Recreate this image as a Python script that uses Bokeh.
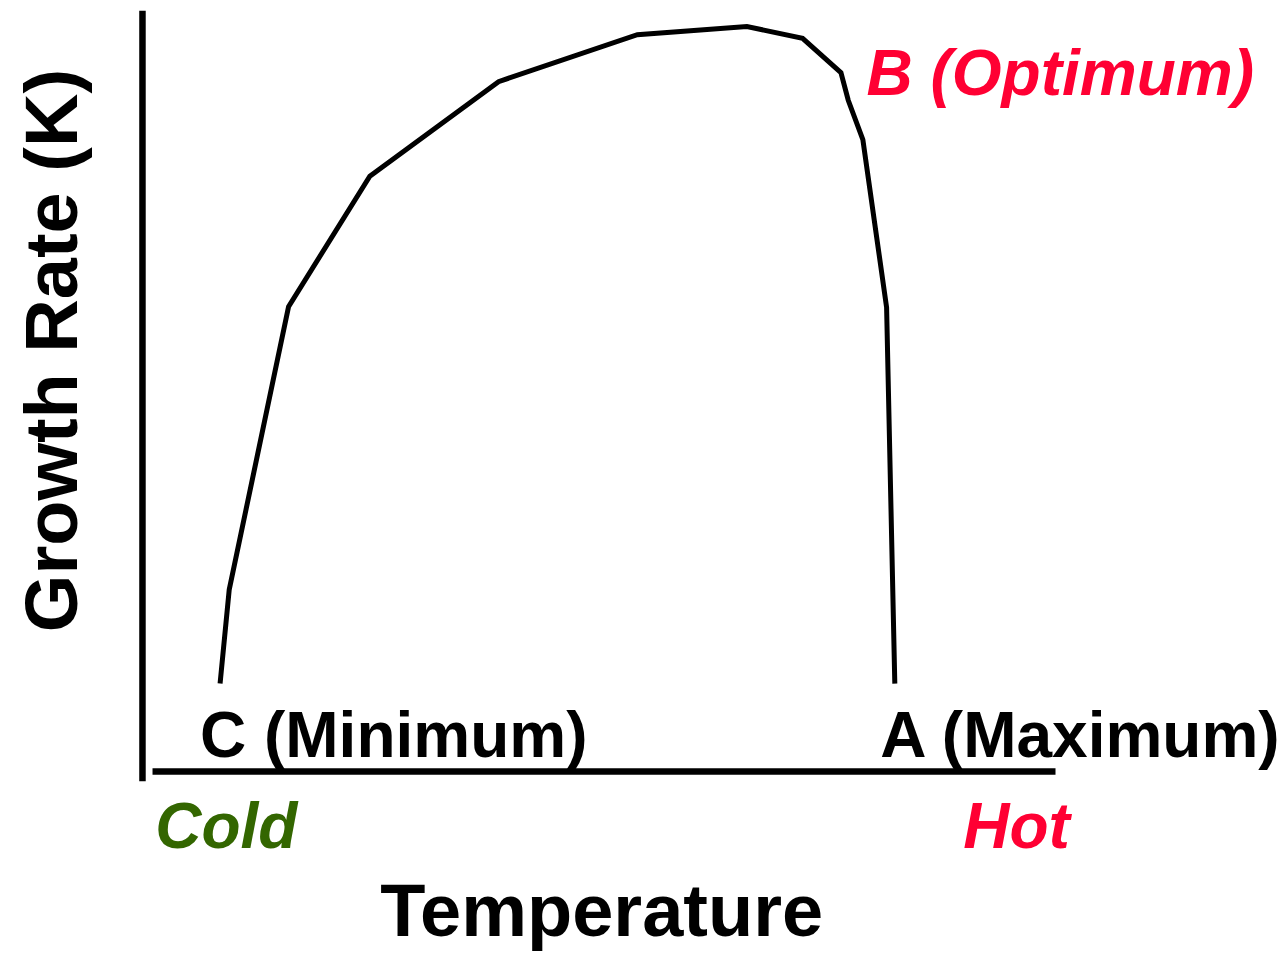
from bokeh.plotting import figure
from bokeh.models import Range1d, Label
from bokeh.embed import file_html
from bokeh.resources import INLINE
import math

# Data (temperature in arbitrary units 0-100, growth rate 0-100)
temperature = [8.5, 9.5, 16.0, 24.9, 39.0, 54.2, 66.2, 72.3, 76.5, 77.3, 78.9, 81.5, 82.4]
growth_rate = [11.8, 24.4, 62.4, 79.9, 92.6, 98.9, 100.0, 98.4, 93.8, 90.1, 84.8, 62.3, 11.8]

point_labels = ["C (Minimum)", "A (Maximum)", "B (Optimum)"]
end_labels = ["Cold", "Hot"]
x_title = "Temperature"
y_title = "Growth Rate (K)"

W, H = 1285, 953
p = figure(width=W, height=H, output_backend="svg", toolbar_location=None,
           x_range=Range1d(-15.55, 125.19), y_range=Range1d(-24.43, 103.49),
           min_border=0, outline_line_color=None)
p.axis.visible = False
p.grid.visible = False

# axes lines
p.segment(x0=[0], y0=[-1.3], x1=[0], y1=[102.1], line_color="black", line_width=6.5)
p.segment(x0=[1.1], y0=[0], x1=[100], y1=[0], line_color="black", line_width=6.5)

# curve
p.line(temperature, growth_rate, line_color="black", line_width=5, line_join="miter")

font = "Liberation Sans"
def lab(x, y, text, color="black", style="bold", size="64px", align="left", angle=0):
    p.add_layout(Label(x=x, y=y, text=text, text_color=color, text_font=font,
                       text_font_style=style, text_font_size=size, text_align=align,
                       text_baseline="alphabetic", angle=angle))

lab(6.3, 4.95, point_labels[0])
lab(80.8, 4.95, point_labels[1])
lab(79.3, 93.8, point_labels[2], color="#ff0033", style="bold italic")
lab(1.4, -7.35, end_labels[0], color="#336600", style="bold italic")
lab(89.9, -7.35, end_labels[1], color="#ff0033", style="bold italic")
lab(50.3, -18.6, x_title, size="74px", align="center")
lab(-9.97, 56.5, y_title, size="74px", align="center", angle=math.pi / 2)

open("out.html", "w").write(file_html(p, INLINE))
